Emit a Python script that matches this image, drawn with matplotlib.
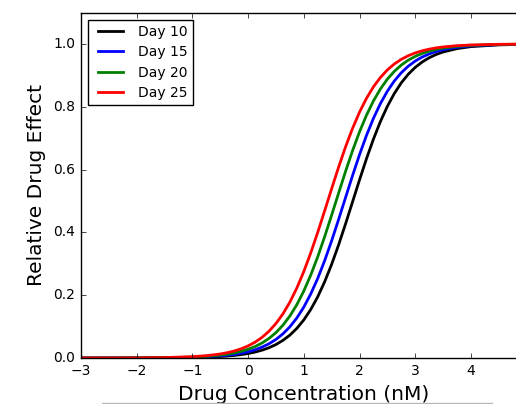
import matplotlib
matplotlib.use("Agg")
import matplotlib.pyplot as plt
from matplotlib.lines import Line2D

# log drug concentration (x) and relative effect per day
conc = [-3.0, -2.5, -2.0, -1.5, -1.0, -0.75,
        -0.5, -0.375, -0.25, -0.125, 0.0, 0.125, 0.25, 0.375, 0.5, 0.625, 0.75,
        0.875, 1.0, 1.125, 1.25, 1.375, 1.5, 1.625, 1.75, 1.875, 2.0, 2.125,
        2.25, 2.375, 2.5, 2.625, 2.75, 2.875, 3.0, 3.125, 3.25, 3.375, 3.5,
        3.75, 4.0, 4.5, 5.0]

day10 = [0.0000, 0.0001, 0.0002, 0.0005, 0.0015, 0.0027,
         0.0047, 0.0062, 0.0082, 0.0109, 0.0143, 0.0189, 0.0249, 0.0327, 0.0429,
         0.0561, 0.0729, 0.0944, 0.1213, 0.1546, 0.1950, 0.2430, 0.2984, 0.3604,
         0.4274, 0.4972, 0.5671, 0.6344, 0.6969, 0.7529, 0.8014, 0.8424, 0.8763,
         0.9037, 0.9255, 0.9427, 0.9562, 0.9666, 0.9746,
         0.9853, 0.9916, 0.9972, 0.9991]
day15 = [0.0000, 0.0001, 0.0002, 0.0007, 0.0021, 0.0038,
         0.0066, 0.0087, 0.0115, 0.0152, 0.0200, 0.0263, 0.0346, 0.0453, 0.0591,
         0.0769, 0.0993, 0.1274, 0.1621, 0.2041, 0.2535, 0.3103, 0.3734, 0.4413,
         0.5112, 0.5808, 0.6474, 0.7087, 0.7631, 0.8101, 0.8497, 0.8822, 0.9084,
         0.9293, 0.9457, 0.9585, 0.9683, 0.9759, 0.9817,
         0.9895, 0.9940, 0.9980, 0.9994]
day20 = [0.0000, 0.0001, 0.0003, 0.0010, 0.0030, 0.0053,
         0.0092, 0.0121, 0.0160, 0.0211, 0.0278, 0.0365, 0.0478, 0.0623, 0.0809,
         0.1044, 0.1338, 0.1699, 0.2133, 0.2643, 0.3225, 0.3867, 0.4551, 0.5252,
         0.5945, 0.6602, 0.7201, 0.7731, 0.8187, 0.8568, 0.8880, 0.9130, 0.9329,
         0.9485, 0.9606, 0.9700, 0.9772, 0.9827, 0.9869,
         0.9925, 0.9957, 0.9986, 0.9995]
day25 = [0.0000, 0.0001, 0.0004, 0.0014, 0.0042, 0.0074,
         0.0128, 0.0169, 0.0223, 0.0293, 0.0385, 0.0504, 0.0657, 0.0852, 0.1098,
         0.1405, 0.1780, 0.2229, 0.2754, 0.3349, 0.4001, 0.4691, 0.5393, 0.6080,
         0.6726, 0.7312, 0.7829, 0.8269, 0.8636, 0.8934, 0.9174, 0.9364, 0.9512,
         0.9627, 0.9716, 0.9784, 0.9836, 0.9876, 0.9906,
         0.9946, 0.9969, 0.9990, 0.9997]

series = [("Day 10", day10, "k"), ("Day 15", day15, "b"),
          ("Day 20", day20, "g"), ("Day 25", day25, "r")]

plt.style.use("classic")
plt.rcParams["figure.facecolor"] = "white"
plt.rcParams["savefig.facecolor"] = "white"

fig = plt.figure(figsize=(5.16, 4.04), dpi=100)
# axes run past the right edge, the reference is cropped there
ax = fig.add_axes([81 / 516, 46 / 404, 445.6 / 516, 345.4 / 404])

for label, values, colour in series:
    ax.plot(conc, values, color=colour, lw=2, label=label)

ax.set_xlim(-3, 5)
ax.set_ylim(0, 1.1)
ax.set_xticks(range(-3, 5))
ax.set_yticks([0.0, 0.2, 0.4, 0.6, 0.8, 1.0])
ax.tick_params(direction="in", length=3.5, labelsize=10, top=True, right=True)
ax.set_xlabel("Drug Concentration (nM)", fontsize=14.5)
ax.set_ylabel("Relative Drug Effect", fontsize=14.5)

leg = ax.legend(loc="upper left", fontsize=10, handlelength=2.4, borderpad=0.4,
                labelspacing=0.45, borderaxespad=0.5)
leg.get_frame().set_linewidth(1)

fig.add_artist(Line2D([102 / 516, 492 / 516], [1.5 / 404, 1.5 / 404],
                      transform=fig.transFigure, color="#b8b8b8", lw=1))

fig.savefig("out.png", dpi=100)
